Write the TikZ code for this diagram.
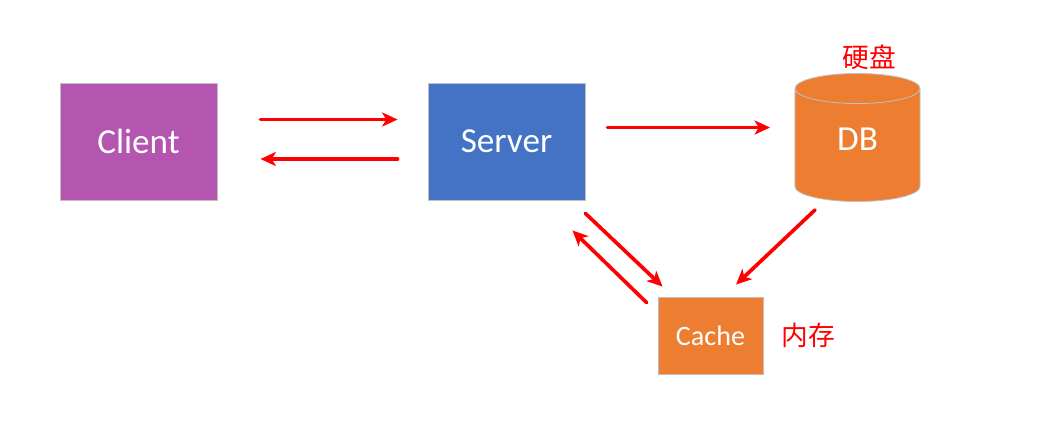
\documentclass[tikz,border=0pt]{standalone}
\usepackage{fontspec}
\setmainfont{Carlito}
\newfontfamily\cjk{Noto Sans CJK SC}
\usetikzlibrary{arrows.meta,shapes.geometric}
\definecolor{clientpurple}{HTML}{B455B0}
\definecolor{serverblue}{HTML}{4472C4}
\definecolor{storeorange}{HTML}{ED7D31}
\definecolor{edgegray}{HTML}{BFBFBF}
\begin{document}
\begin{tikzpicture}[x=0.025cm,y=-0.025cm,
    box/.style={draw=edgegray,line width=0.6pt,text=white,font=\fontsize{25}{30}\selectfont},
    flow/.style={draw=red,line width=2.6pt,line cap=round,-{Stealth[length=11pt,width=10pt,inset=3pt]}},
    note/.style={text=red,font=\cjk\fontsize{19}{22}\selectfont}]
  \useasboundingbox (0,0) rectangle (1060,424);
  \node[box,fill=clientpurple,minimum width=3.925cm,minimum height=2.925cm] (client) at (138.5,141.5) {Client};
  \node[box,fill=serverblue,minimum width=3.925cm,minimum height=2.925cm] (server) at (506.5,141.5) {Server};
  \node[box,fill=storeorange,cylinder,shape border rotate=90,aspect=0.6,anchor=shape center,
    minimum width=3.125cm,minimum height=3.2cm,text height=16.3pt,text depth=13.5pt,
    font=\fontsize{25}{30}\selectfont] (db) at (857.5,137.5) {DB};
  \node[box,fill=storeorange,minimum width=2.625cm,minimum height=1.925cm,
    font=\fontsize{20}{24}\selectfont] (cache) at (710.5,335.5) {Cache};
  \node[note] (disk) at (869,57) {硬盘};
  \node[note] (mem) at (808,335) {内存};
  \begin{scope}
    \draw[flow,shorten <=43*0.025cm,shorten >=30*0.025cm] ([shift={(0,-22)}]client.east) -- ([shift={(0,-22)}]server.west);
    \draw[flow,shorten <=30*0.025cm,shorten >=43*0.025cm] ([shift={(0,17.5)}]server.west) -- ([shift={(0,17.5)}]client.east);
    \draw[flow,shorten <=22*0.025cm,shorten >=25*0.025cm] ([shift={(0,-14)}]server.east) -- ([shift={(-62.5,-10)}]db.shape center);
    \draw[flow] ([shift={(0,13)}]server.south east) -- ([shift={(5,-10)}]cache.north west);
    \draw[flow] ([shift={(-11,6)}]cache.north west) -- ([shift={(-13,30)}]server.south east);
    \draw[flow] ([shift={(-42.5,8)}]db.south) -- ([shift={(25.5,-12)}]cache.north);
  \end{scope}
\end{tikzpicture}
\end{document}
